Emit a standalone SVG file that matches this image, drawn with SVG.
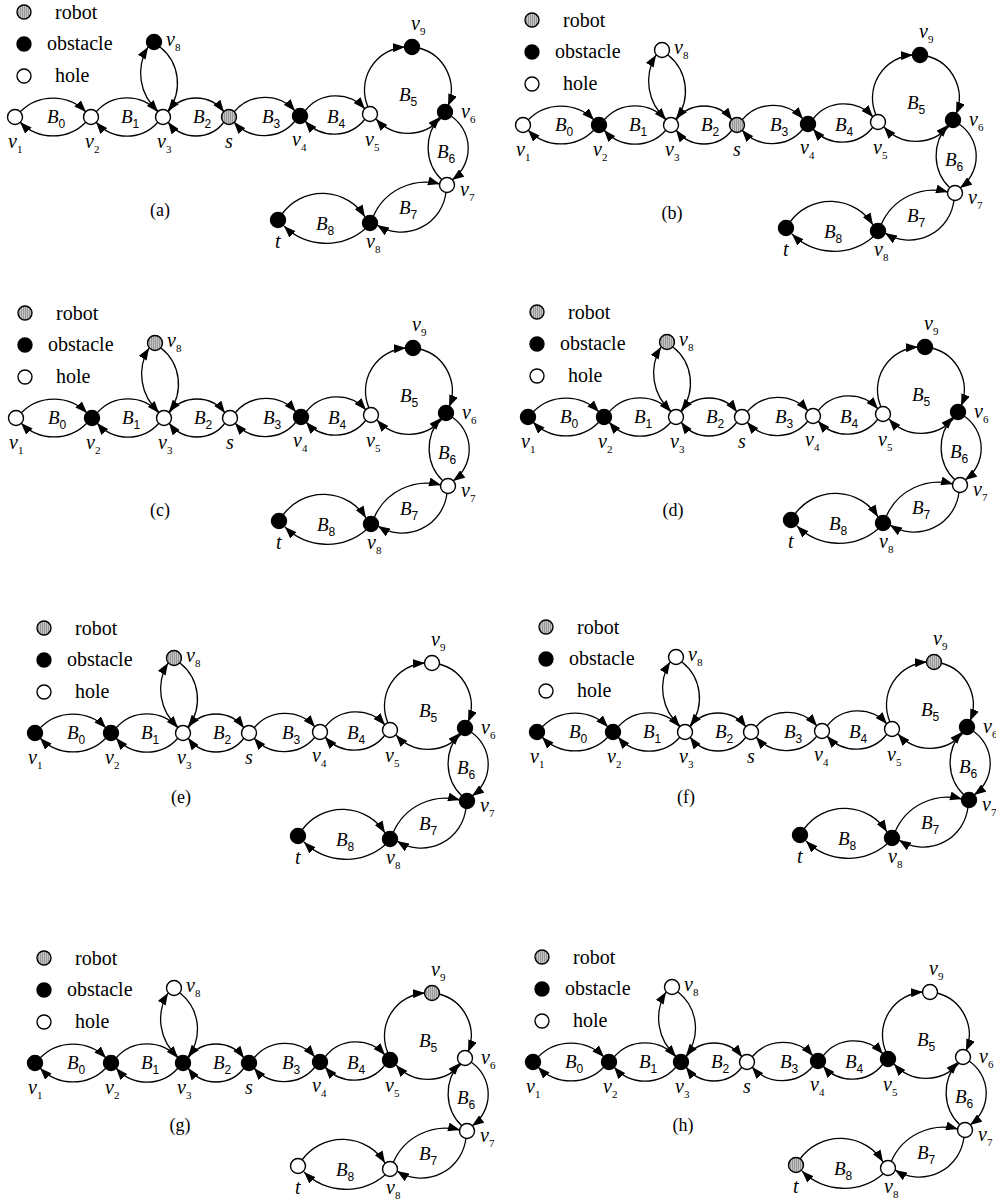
<svg xmlns="http://www.w3.org/2000/svg" xmlns:xlink="http://www.w3.org/1999/xlink" width="996" height="1201" viewBox="0 0 996 1201" font-family="'Liberation Serif', 'Times New Roman', serif">
<style>
.n circle{stroke:#000;stroke-width:1.4}
.h{fill:#fff}.o{fill:#000}.r{fill:url(#hatch)}
.e path{fill:none;stroke:#000;stroke-width:1.3;marker-end:url(#ah)}
text{font-family:'Liberation Serif','Times New Roman',serif}
.lg{font-size:20px}
.vl{font-size:20px;font-style:italic}
.vs{font-size:11px;font-style:normal}
.bl{font-size:19px;font-style:italic}
.bs{font-family:'Liberation Sans',Arial,sans-serif;font-size:12px;font-style:normal}
.cap{font-size:18px;text-anchor:middle}
</style>
<defs>
<pattern id="hatch" patternUnits="userSpaceOnUse" width="2" height="4"><rect width="2" height="4" fill="#c4c4c4"/><rect width="0.8" height="4" fill="#8c8c8c"/></pattern>
<marker id="ah" markerWidth="12" markerHeight="9" refX="12" refY="4.5" orient="auto" markerUnits="userSpaceOnUse"><path d="M0,0 L12,4.5 L0,9 z" fill="#000"/></marker>
<g id="edges" class="e">
<path d="M20,112 A46,46 0 0 1 86,112"/><path d="M86,122 A46,46 0 0 1 20,122"/>
<path d="M96,112 A41,41 0 0 1 158,112"/><path d="M158,122 A41,41 0 0 1 96,122"/>
<path d="M168,112 A35,35 0 0 1 224,112"/><path d="M224,122 A35,35 0 0 1 168,122"/>
<path d="M234,112 A40,40 0 0 1 295,111"/><path d="M295,121 A40,40 0 0 1 234,122"/>
<path d="M305,111 A39,39 0 0 1 365,109"/><path d="M365,119 A39,39 0 0 1 305,121"/>
<path d="M368,107 A43,43 0 0 1 405,47"/><path d="M419,48 A43,43 0 0 1 448,106"/><path d="M441,118 A43,43 0 0 1 376,119"/>
<path d="M158,111 A50,50 0 0 1 148,47"/><path d="M160,47 A46,46 0 0 1 168,111"/>
<path d="M451,116 A39,39 0 0 1 452,180"/><path d="M442,180 A45,45 0 0 1 440,117"/>
<path d="M373,217 A57,57 0 0 1 440,184"/><path d="M446,192 A45,45 0 0 1 377,225"/>
<path d="M282,214 A50,50 0 0 1 365,217"/><path d="M365,229 A60,60 0 0 1 284,226"/>
</g>
</defs>

<g id="panel-a">
<g id="a-legend"><g class="n"><circle class="r" cx="24" cy="12" r="7"/><circle class="o" cx="24" cy="44" r="7"/><circle class="h" cx="24" cy="76" r="7"/></g><text class="lg" x="55" y="19">robot</text><text class="lg" x="47" y="50">obstacle</text><text class="lg" x="55" y="82">hole</text></g>
<g id="a-connectors"><use xlink:href="#edges"/></g>
<g id="a-blocks"><text class="bl" x="47" y="123">B<tspan class="bs" dy="5">0</tspan></text><text class="bl" x="121" y="123">B<tspan class="bs" dy="5">1</tspan></text><text class="bl" x="193" y="123">B<tspan class="bs" dy="5">2</tspan></text><text class="bl" x="262" y="123">B<tspan class="bs" dy="5">3</tspan></text><text class="bl" x="327" y="123">B<tspan class="bs" dy="5">4</tspan></text><text class="bl" x="399" y="101">B<tspan class="bs" dy="5">5</tspan></text><text class="bl" x="437" y="158">B<tspan class="bs" dy="5">6</tspan></text><text class="bl" x="399" y="214">B<tspan class="bs" dy="5">7</tspan></text><text class="bl" x="316" y="230">B<tspan class="bs" dy="5">8</tspan></text></g>
<g id="a-v1" class="n"><circle class="h" cx="15" cy="117" r="7.5"/><text class="vl" x="8" y="148">v<tspan class="vs" dy="5">1</tspan></text></g>
<g id="a-v2" class="n"><circle class="h" cx="91" cy="117" r="7.5"/><text class="vl" x="85" y="148">v<tspan class="vs" dy="5">2</tspan></text></g>
<g id="a-v3" class="n"><circle class="h" cx="163" cy="117" r="7.5"/><text class="vl" x="157" y="148">v<tspan class="vs" dy="5">3</tspan></text></g>
<g id="a-s" class="n"><circle class="r" cx="229" cy="117" r="7.5"/><text class="vl" x="225" y="148">s</text></g>
<g id="a-v4" class="n"><circle class="o" cx="300" cy="116" r="7.5"/><text class="vl" x="292" y="146">v<tspan class="vs" dy="5">4</tspan></text></g>
<g id="a-v5" class="n"><circle class="h" cx="370" cy="114" r="7.5"/><text class="vl" x="365" y="146">v<tspan class="vs" dy="5">5</tspan></text></g>
<g id="a-v9" class="n"><circle class="o" cx="412" cy="47" r="7.5"/><text class="vl" x="411" y="30">v<tspan class="vs" dy="5">9</tspan></text></g>
<g id="a-v6" class="n"><circle class="o" cx="445" cy="112" r="7.5"/><text class="vl" x="461" y="118">v<tspan class="vs" dy="5">6</tspan></text></g>
<g id="a-v8t" class="n"><circle class="o" cx="154" cy="42" r="7.5"/><text class="vl" x="166" y="46">v<tspan class="vs" dy="5">8</tspan></text></g>
<g id="a-v7" class="n"><circle class="h" cx="447" cy="185" r="7.5"/><text class="vl" x="460" y="196">v<tspan class="vs" dy="5">7</tspan></text></g>
<g id="a-v8b" class="n"><circle class="o" cx="370" cy="223" r="7.5"/><text class="vl" x="366" y="248">v<tspan class="vs" dy="5">8</tspan></text></g>
<g id="a-t" class="n"><circle class="o" cx="278" cy="220" r="7.5"/><text class="vl" x="275" y="248">t</text></g>
</g>

<g id="panel-b" transform="translate(508,8)">
<g id="b-legend"><g class="n"><circle class="r" cx="24" cy="12" r="7"/><circle class="o" cx="24" cy="44" r="7"/><circle class="h" cx="24" cy="76" r="7"/></g><text class="lg" x="55" y="19">robot</text><text class="lg" x="47" y="50">obstacle</text><text class="lg" x="55" y="82">hole</text></g>
<g id="b-connectors"><use xlink:href="#edges"/></g>
<g id="b-blocks"><text class="bl" x="47" y="123">B<tspan class="bs" dy="5">0</tspan></text><text class="bl" x="121" y="123">B<tspan class="bs" dy="5">1</tspan></text><text class="bl" x="193" y="123">B<tspan class="bs" dy="5">2</tspan></text><text class="bl" x="262" y="123">B<tspan class="bs" dy="5">3</tspan></text><text class="bl" x="327" y="123">B<tspan class="bs" dy="5">4</tspan></text><text class="bl" x="399" y="101">B<tspan class="bs" dy="5">5</tspan></text><text class="bl" x="437" y="158">B<tspan class="bs" dy="5">6</tspan></text><text class="bl" x="399" y="214">B<tspan class="bs" dy="5">7</tspan></text><text class="bl" x="316" y="230">B<tspan class="bs" dy="5">8</tspan></text></g>
<g id="b-v1" class="n"><circle class="h" cx="15" cy="117" r="7.5"/><text class="vl" x="8" y="148">v<tspan class="vs" dy="5">1</tspan></text></g>
<g id="b-v2" class="n"><circle class="o" cx="91" cy="117" r="7.5"/><text class="vl" x="85" y="148">v<tspan class="vs" dy="5">2</tspan></text></g>
<g id="b-v3" class="n"><circle class="h" cx="163" cy="117" r="7.5"/><text class="vl" x="157" y="148">v<tspan class="vs" dy="5">3</tspan></text></g>
<g id="b-s" class="n"><circle class="r" cx="229" cy="117" r="7.5"/><text class="vl" x="225" y="148">s</text></g>
<g id="b-v4" class="n"><circle class="o" cx="300" cy="116" r="7.5"/><text class="vl" x="292" y="146">v<tspan class="vs" dy="5">4</tspan></text></g>
<g id="b-v5" class="n"><circle class="h" cx="370" cy="114" r="7.5"/><text class="vl" x="365" y="146">v<tspan class="vs" dy="5">5</tspan></text></g>
<g id="b-v9" class="n"><circle class="o" cx="412" cy="47" r="7.5"/><text class="vl" x="411" y="30">v<tspan class="vs" dy="5">9</tspan></text></g>
<g id="b-v6" class="n"><circle class="o" cx="445" cy="112" r="7.5"/><text class="vl" x="461" y="118">v<tspan class="vs" dy="5">6</tspan></text></g>
<g id="b-v8t" class="n"><circle class="h" cx="154" cy="42" r="7.5"/><text class="vl" x="166" y="46">v<tspan class="vs" dy="5">8</tspan></text></g>
<g id="b-v7" class="n"><circle class="h" cx="447" cy="185" r="7.5"/><text class="vl" x="460" y="196">v<tspan class="vs" dy="5">7</tspan></text></g>
<g id="b-v8b" class="n"><circle class="o" cx="370" cy="223" r="7.5"/><text class="vl" x="366" y="248">v<tspan class="vs" dy="5">8</tspan></text></g>
<g id="b-t" class="n"><circle class="o" cx="278" cy="220" r="7.5"/><text class="vl" x="275" y="248">t</text></g>
</g>

<g id="panel-c" transform="translate(1,301)">
<g id="c-legend"><g class="n"><circle class="r" cx="24" cy="12" r="7"/><circle class="o" cx="24" cy="44" r="7"/><circle class="h" cx="24" cy="76" r="7"/></g><text class="lg" x="55" y="19">robot</text><text class="lg" x="47" y="50">obstacle</text><text class="lg" x="55" y="82">hole</text></g>
<g id="c-connectors"><use xlink:href="#edges"/></g>
<g id="c-blocks"><text class="bl" x="47" y="123">B<tspan class="bs" dy="5">0</tspan></text><text class="bl" x="121" y="123">B<tspan class="bs" dy="5">1</tspan></text><text class="bl" x="193" y="123">B<tspan class="bs" dy="5">2</tspan></text><text class="bl" x="262" y="123">B<tspan class="bs" dy="5">3</tspan></text><text class="bl" x="327" y="123">B<tspan class="bs" dy="5">4</tspan></text><text class="bl" x="399" y="101">B<tspan class="bs" dy="5">5</tspan></text><text class="bl" x="437" y="158">B<tspan class="bs" dy="5">6</tspan></text><text class="bl" x="399" y="214">B<tspan class="bs" dy="5">7</tspan></text><text class="bl" x="316" y="230">B<tspan class="bs" dy="5">8</tspan></text></g>
<g id="c-v1" class="n"><circle class="h" cx="15" cy="117" r="7.5"/><text class="vl" x="8" y="148">v<tspan class="vs" dy="5">1</tspan></text></g>
<g id="c-v2" class="n"><circle class="o" cx="91" cy="117" r="7.5"/><text class="vl" x="85" y="148">v<tspan class="vs" dy="5">2</tspan></text></g>
<g id="c-v3" class="n"><circle class="h" cx="163" cy="117" r="7.5"/><text class="vl" x="157" y="148">v<tspan class="vs" dy="5">3</tspan></text></g>
<g id="c-s" class="n"><circle class="h" cx="229" cy="117" r="7.5"/><text class="vl" x="225" y="148">s</text></g>
<g id="c-v4" class="n"><circle class="o" cx="300" cy="116" r="7.5"/><text class="vl" x="292" y="146">v<tspan class="vs" dy="5">4</tspan></text></g>
<g id="c-v5" class="n"><circle class="h" cx="370" cy="114" r="7.5"/><text class="vl" x="365" y="146">v<tspan class="vs" dy="5">5</tspan></text></g>
<g id="c-v9" class="n"><circle class="o" cx="412" cy="47" r="7.5"/><text class="vl" x="411" y="30">v<tspan class="vs" dy="5">9</tspan></text></g>
<g id="c-v6" class="n"><circle class="o" cx="445" cy="112" r="7.5"/><text class="vl" x="461" y="118">v<tspan class="vs" dy="5">6</tspan></text></g>
<g id="c-v8t" class="n"><circle class="r" cx="154" cy="42" r="7.5"/><text class="vl" x="166" y="46">v<tspan class="vs" dy="5">8</tspan></text></g>
<g id="c-v7" class="n"><circle class="h" cx="447" cy="185" r="7.5"/><text class="vl" x="460" y="196">v<tspan class="vs" dy="5">7</tspan></text></g>
<g id="c-v8b" class="n"><circle class="o" cx="370" cy="223" r="7.5"/><text class="vl" x="366" y="248">v<tspan class="vs" dy="5">8</tspan></text></g>
<g id="c-t" class="n"><circle class="o" cx="278" cy="220" r="7.5"/><text class="vl" x="275" y="248">t</text></g>
</g>

<g id="panel-d" transform="translate(513,300)">
<g id="d-legend"><g class="n"><circle class="r" cx="24" cy="12" r="7"/><circle class="o" cx="24" cy="44" r="7"/><circle class="h" cx="24" cy="76" r="7"/></g><text class="lg" x="55" y="19">robot</text><text class="lg" x="47" y="50">obstacle</text><text class="lg" x="55" y="82">hole</text></g>
<g id="d-connectors"><use xlink:href="#edges"/></g>
<g id="d-blocks"><text class="bl" x="47" y="123">B<tspan class="bs" dy="5">0</tspan></text><text class="bl" x="121" y="123">B<tspan class="bs" dy="5">1</tspan></text><text class="bl" x="193" y="123">B<tspan class="bs" dy="5">2</tspan></text><text class="bl" x="262" y="123">B<tspan class="bs" dy="5">3</tspan></text><text class="bl" x="327" y="123">B<tspan class="bs" dy="5">4</tspan></text><text class="bl" x="399" y="101">B<tspan class="bs" dy="5">5</tspan></text><text class="bl" x="437" y="158">B<tspan class="bs" dy="5">6</tspan></text><text class="bl" x="399" y="214">B<tspan class="bs" dy="5">7</tspan></text><text class="bl" x="316" y="230">B<tspan class="bs" dy="5">8</tspan></text></g>
<g id="d-v1" class="n"><circle class="o" cx="15" cy="117" r="7.5"/><text class="vl" x="8" y="148">v<tspan class="vs" dy="5">1</tspan></text></g>
<g id="d-v2" class="n"><circle class="o" cx="91" cy="117" r="7.5"/><text class="vl" x="85" y="148">v<tspan class="vs" dy="5">2</tspan></text></g>
<g id="d-v3" class="n"><circle class="h" cx="163" cy="117" r="7.5"/><text class="vl" x="157" y="148">v<tspan class="vs" dy="5">3</tspan></text></g>
<g id="d-s" class="n"><circle class="h" cx="229" cy="117" r="7.5"/><text class="vl" x="225" y="148">s</text></g>
<g id="d-v4" class="n"><circle class="h" cx="300" cy="116" r="7.5"/><text class="vl" x="292" y="146">v<tspan class="vs" dy="5">4</tspan></text></g>
<g id="d-v5" class="n"><circle class="h" cx="370" cy="114" r="7.5"/><text class="vl" x="365" y="146">v<tspan class="vs" dy="5">5</tspan></text></g>
<g id="d-v9" class="n"><circle class="o" cx="412" cy="47" r="7.5"/><text class="vl" x="411" y="30">v<tspan class="vs" dy="5">9</tspan></text></g>
<g id="d-v6" class="n"><circle class="o" cx="445" cy="112" r="7.5"/><text class="vl" x="461" y="118">v<tspan class="vs" dy="5">6</tspan></text></g>
<g id="d-v8t" class="n"><circle class="r" cx="154" cy="42" r="7.5"/><text class="vl" x="166" y="46">v<tspan class="vs" dy="5">8</tspan></text></g>
<g id="d-v7" class="n"><circle class="h" cx="447" cy="185" r="7.5"/><text class="vl" x="460" y="196">v<tspan class="vs" dy="5">7</tspan></text></g>
<g id="d-v8b" class="n"><circle class="o" cx="370" cy="223" r="7.5"/><text class="vl" x="366" y="248">v<tspan class="vs" dy="5">8</tspan></text></g>
<g id="d-t" class="n"><circle class="o" cx="278" cy="220" r="7.5"/><text class="vl" x="275" y="248">t</text></g>
</g>

<g id="panel-e" transform="translate(20,616)">
<g id="e-legend"><g class="n"><circle class="r" cx="24" cy="12" r="7"/><circle class="o" cx="24" cy="44" r="7"/><circle class="h" cx="24" cy="76" r="7"/></g><text class="lg" x="55" y="19">robot</text><text class="lg" x="47" y="50">obstacle</text><text class="lg" x="55" y="82">hole</text></g>
<g id="e-connectors"><use xlink:href="#edges"/></g>
<g id="e-blocks"><text class="bl" x="47" y="123">B<tspan class="bs" dy="5">0</tspan></text><text class="bl" x="121" y="123">B<tspan class="bs" dy="5">1</tspan></text><text class="bl" x="193" y="123">B<tspan class="bs" dy="5">2</tspan></text><text class="bl" x="262" y="123">B<tspan class="bs" dy="5">3</tspan></text><text class="bl" x="327" y="123">B<tspan class="bs" dy="5">4</tspan></text><text class="bl" x="399" y="101">B<tspan class="bs" dy="5">5</tspan></text><text class="bl" x="437" y="158">B<tspan class="bs" dy="5">6</tspan></text><text class="bl" x="399" y="214">B<tspan class="bs" dy="5">7</tspan></text><text class="bl" x="316" y="230">B<tspan class="bs" dy="5">8</tspan></text></g>
<g id="e-v1" class="n"><circle class="o" cx="15" cy="117" r="7.5"/><text class="vl" x="8" y="148">v<tspan class="vs" dy="5">1</tspan></text></g>
<g id="e-v2" class="n"><circle class="o" cx="91" cy="117" r="7.5"/><text class="vl" x="85" y="148">v<tspan class="vs" dy="5">2</tspan></text></g>
<g id="e-v3" class="n"><circle class="h" cx="163" cy="117" r="7.5"/><text class="vl" x="157" y="148">v<tspan class="vs" dy="5">3</tspan></text></g>
<g id="e-s" class="n"><circle class="h" cx="229" cy="117" r="7.5"/><text class="vl" x="225" y="148">s</text></g>
<g id="e-v4" class="n"><circle class="h" cx="300" cy="116" r="7.5"/><text class="vl" x="292" y="146">v<tspan class="vs" dy="5">4</tspan></text></g>
<g id="e-v5" class="n"><circle class="h" cx="370" cy="114" r="7.5"/><text class="vl" x="365" y="146">v<tspan class="vs" dy="5">5</tspan></text></g>
<g id="e-v9" class="n"><circle class="h" cx="412" cy="47" r="7.5"/><text class="vl" x="411" y="30">v<tspan class="vs" dy="5">9</tspan></text></g>
<g id="e-v6" class="n"><circle class="o" cx="445" cy="112" r="7.5"/><text class="vl" x="461" y="118">v<tspan class="vs" dy="5">6</tspan></text></g>
<g id="e-v8t" class="n"><circle class="r" cx="154" cy="42" r="7.5"/><text class="vl" x="166" y="46">v<tspan class="vs" dy="5">8</tspan></text></g>
<g id="e-v7" class="n"><circle class="o" cx="447" cy="185" r="7.5"/><text class="vl" x="460" y="196">v<tspan class="vs" dy="5">7</tspan></text></g>
<g id="e-v8b" class="n"><circle class="o" cx="370" cy="223" r="7.5"/><text class="vl" x="366" y="248">v<tspan class="vs" dy="5">8</tspan></text></g>
<g id="e-t" class="n"><circle class="o" cx="278" cy="220" r="7.5"/><text class="vl" x="275" y="248">t</text></g>
</g>

<g id="panel-f" transform="translate(522,615)">
<g id="f-legend"><g class="n"><circle class="r" cx="24" cy="12" r="7"/><circle class="o" cx="24" cy="44" r="7"/><circle class="h" cx="24" cy="76" r="7"/></g><text class="lg" x="55" y="19">robot</text><text class="lg" x="47" y="50">obstacle</text><text class="lg" x="55" y="82">hole</text></g>
<g id="f-connectors"><use xlink:href="#edges"/></g>
<g id="f-blocks"><text class="bl" x="47" y="123">B<tspan class="bs" dy="5">0</tspan></text><text class="bl" x="121" y="123">B<tspan class="bs" dy="5">1</tspan></text><text class="bl" x="193" y="123">B<tspan class="bs" dy="5">2</tspan></text><text class="bl" x="262" y="123">B<tspan class="bs" dy="5">3</tspan></text><text class="bl" x="327" y="123">B<tspan class="bs" dy="5">4</tspan></text><text class="bl" x="399" y="101">B<tspan class="bs" dy="5">5</tspan></text><text class="bl" x="437" y="158">B<tspan class="bs" dy="5">6</tspan></text><text class="bl" x="399" y="214">B<tspan class="bs" dy="5">7</tspan></text><text class="bl" x="316" y="230">B<tspan class="bs" dy="5">8</tspan></text></g>
<g id="f-v1" class="n"><circle class="o" cx="15" cy="117" r="7.5"/><text class="vl" x="8" y="148">v<tspan class="vs" dy="5">1</tspan></text></g>
<g id="f-v2" class="n"><circle class="o" cx="91" cy="117" r="7.5"/><text class="vl" x="85" y="148">v<tspan class="vs" dy="5">2</tspan></text></g>
<g id="f-v3" class="n"><circle class="h" cx="163" cy="117" r="7.5"/><text class="vl" x="157" y="148">v<tspan class="vs" dy="5">3</tspan></text></g>
<g id="f-s" class="n"><circle class="h" cx="229" cy="117" r="7.5"/><text class="vl" x="225" y="148">s</text></g>
<g id="f-v4" class="n"><circle class="h" cx="300" cy="116" r="7.5"/><text class="vl" x="292" y="146">v<tspan class="vs" dy="5">4</tspan></text></g>
<g id="f-v5" class="n"><circle class="h" cx="370" cy="114" r="7.5"/><text class="vl" x="365" y="146">v<tspan class="vs" dy="5">5</tspan></text></g>
<g id="f-v9" class="n"><circle class="r" cx="412" cy="47" r="7.5"/><text class="vl" x="411" y="30">v<tspan class="vs" dy="5">9</tspan></text></g>
<g id="f-v6" class="n"><circle class="o" cx="445" cy="112" r="7.5"/><text class="vl" x="461" y="118">v<tspan class="vs" dy="5">6</tspan></text></g>
<g id="f-v8t" class="n"><circle class="h" cx="154" cy="42" r="7.5"/><text class="vl" x="166" y="46">v<tspan class="vs" dy="5">8</tspan></text></g>
<g id="f-v7" class="n"><circle class="o" cx="447" cy="185" r="7.5"/><text class="vl" x="460" y="196">v<tspan class="vs" dy="5">7</tspan></text></g>
<g id="f-v8b" class="n"><circle class="o" cx="370" cy="223" r="7.5"/><text class="vl" x="366" y="248">v<tspan class="vs" dy="5">8</tspan></text></g>
<g id="f-t" class="n"><circle class="o" cx="278" cy="220" r="7.5"/><text class="vl" x="275" y="248">t</text></g>
</g>

<g id="panel-g" transform="translate(20,946)">
<g id="g-legend"><g class="n"><circle class="r" cx="24" cy="12" r="7"/><circle class="o" cx="24" cy="44" r="7"/><circle class="h" cx="24" cy="76" r="7"/></g><text class="lg" x="55" y="19">robot</text><text class="lg" x="47" y="50">obstacle</text><text class="lg" x="55" y="82">hole</text></g>
<g id="g-connectors"><use xlink:href="#edges"/></g>
<g id="g-blocks"><text class="bl" x="47" y="123">B<tspan class="bs" dy="5">0</tspan></text><text class="bl" x="121" y="123">B<tspan class="bs" dy="5">1</tspan></text><text class="bl" x="193" y="123">B<tspan class="bs" dy="5">2</tspan></text><text class="bl" x="262" y="123">B<tspan class="bs" dy="5">3</tspan></text><text class="bl" x="327" y="123">B<tspan class="bs" dy="5">4</tspan></text><text class="bl" x="399" y="101">B<tspan class="bs" dy="5">5</tspan></text><text class="bl" x="437" y="158">B<tspan class="bs" dy="5">6</tspan></text><text class="bl" x="399" y="214">B<tspan class="bs" dy="5">7</tspan></text><text class="bl" x="316" y="230">B<tspan class="bs" dy="5">8</tspan></text></g>
<g id="g-v1" class="n"><circle class="o" cx="15" cy="117" r="7.5"/><text class="vl" x="8" y="148">v<tspan class="vs" dy="5">1</tspan></text></g>
<g id="g-v2" class="n"><circle class="o" cx="91" cy="117" r="7.5"/><text class="vl" x="85" y="148">v<tspan class="vs" dy="5">2</tspan></text></g>
<g id="g-v3" class="n"><circle class="o" cx="163" cy="117" r="7.5"/><text class="vl" x="157" y="148">v<tspan class="vs" dy="5">3</tspan></text></g>
<g id="g-s" class="n"><circle class="o" cx="229" cy="117" r="7.5"/><text class="vl" x="225" y="148">s</text></g>
<g id="g-v4" class="n"><circle class="o" cx="300" cy="116" r="7.5"/><text class="vl" x="292" y="146">v<tspan class="vs" dy="5">4</tspan></text></g>
<g id="g-v5" class="n"><circle class="o" cx="370" cy="114" r="7.5"/><text class="vl" x="365" y="146">v<tspan class="vs" dy="5">5</tspan></text></g>
<g id="g-v9" class="n"><circle class="r" cx="412" cy="47" r="7.5"/><text class="vl" x="411" y="30">v<tspan class="vs" dy="5">9</tspan></text></g>
<g id="g-v6" class="n"><circle class="h" cx="445" cy="112" r="7.5"/><text class="vl" x="461" y="118">v<tspan class="vs" dy="5">6</tspan></text></g>
<g id="g-v8t" class="n"><circle class="h" cx="154" cy="42" r="7.5"/><text class="vl" x="166" y="46">v<tspan class="vs" dy="5">8</tspan></text></g>
<g id="g-v7" class="n"><circle class="h" cx="447" cy="185" r="7.5"/><text class="vl" x="460" y="196">v<tspan class="vs" dy="5">7</tspan></text></g>
<g id="g-v8b" class="n"><circle class="h" cx="370" cy="223" r="7.5"/><text class="vl" x="366" y="248">v<tspan class="vs" dy="5">8</tspan></text></g>
<g id="g-t" class="n"><circle class="h" cx="278" cy="220" r="7.5"/><text class="vl" x="275" y="248">t</text></g>
</g>

<g id="panel-h" transform="translate(518,945)">
<g id="h-legend"><g class="n"><circle class="r" cx="24" cy="12" r="7"/><circle class="o" cx="24" cy="44" r="7"/><circle class="h" cx="24" cy="76" r="7"/></g><text class="lg" x="55" y="19">robot</text><text class="lg" x="47" y="50">obstacle</text><text class="lg" x="55" y="82">hole</text></g>
<g id="h-connectors"><use xlink:href="#edges"/></g>
<g id="h-blocks"><text class="bl" x="47" y="123">B<tspan class="bs" dy="5">0</tspan></text><text class="bl" x="121" y="123">B<tspan class="bs" dy="5">1</tspan></text><text class="bl" x="193" y="123">B<tspan class="bs" dy="5">2</tspan></text><text class="bl" x="262" y="123">B<tspan class="bs" dy="5">3</tspan></text><text class="bl" x="327" y="123">B<tspan class="bs" dy="5">4</tspan></text><text class="bl" x="399" y="101">B<tspan class="bs" dy="5">5</tspan></text><text class="bl" x="437" y="158">B<tspan class="bs" dy="5">6</tspan></text><text class="bl" x="399" y="214">B<tspan class="bs" dy="5">7</tspan></text><text class="bl" x="316" y="230">B<tspan class="bs" dy="5">8</tspan></text></g>
<g id="h-v1" class="n"><circle class="o" cx="15" cy="117" r="7.5"/><text class="vl" x="8" y="148">v<tspan class="vs" dy="5">1</tspan></text></g>
<g id="h-v2" class="n"><circle class="o" cx="91" cy="117" r="7.5"/><text class="vl" x="85" y="148">v<tspan class="vs" dy="5">2</tspan></text></g>
<g id="h-v3" class="n"><circle class="o" cx="163" cy="117" r="7.5"/><text class="vl" x="157" y="148">v<tspan class="vs" dy="5">3</tspan></text></g>
<g id="h-s" class="n"><circle class="h" cx="229" cy="117" r="7.5"/><text class="vl" x="225" y="148">s</text></g>
<g id="h-v4" class="n"><circle class="o" cx="300" cy="116" r="7.5"/><text class="vl" x="292" y="146">v<tspan class="vs" dy="5">4</tspan></text></g>
<g id="h-v5" class="n"><circle class="o" cx="370" cy="114" r="7.5"/><text class="vl" x="365" y="146">v<tspan class="vs" dy="5">5</tspan></text></g>
<g id="h-v9" class="n"><circle class="h" cx="412" cy="47" r="7.5"/><text class="vl" x="411" y="30">v<tspan class="vs" dy="5">9</tspan></text></g>
<g id="h-v6" class="n"><circle class="h" cx="445" cy="112" r="7.5"/><text class="vl" x="461" y="118">v<tspan class="vs" dy="5">6</tspan></text></g>
<g id="h-v8t" class="n"><circle class="h" cx="154" cy="42" r="7.5"/><text class="vl" x="166" y="46">v<tspan class="vs" dy="5">8</tspan></text></g>
<g id="h-v7" class="n"><circle class="h" cx="447" cy="185" r="7.5"/><text class="vl" x="460" y="196">v<tspan class="vs" dy="5">7</tspan></text></g>
<g id="h-v8b" class="n"><circle class="h" cx="370" cy="223" r="7.5"/><text class="vl" x="366" y="248">v<tspan class="vs" dy="5">8</tspan></text></g>
<g id="h-t" class="n"><circle class="r" cx="278" cy="220" r="7.5"/><text class="vl" x="275" y="248">t</text></g>
</g>

<g id="captions">
<text class="cap" x="160" y="216">(a)</text>
<text class="cap" x="672" y="219">(b)</text>
<text class="cap" x="160" y="516">(c)</text>
<text class="cap" x="673" y="516">(d)</text>
<text class="cap" x="181" y="803">(e)</text>
<text class="cap" x="686" y="803">(f)</text>
<text class="cap" x="180" y="1131">(g)</text>
<text class="cap" x="683" y="1131">(h)</text>
</g>
</svg>
